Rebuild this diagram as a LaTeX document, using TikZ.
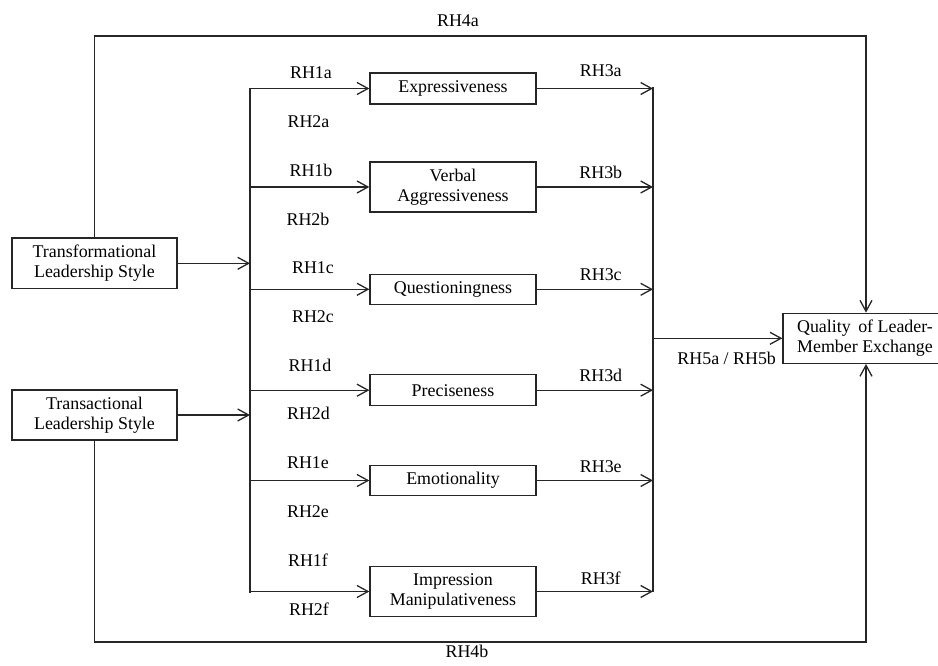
\documentclass[tikz,border=0pt]{standalone}
\usepackage{fontspec}
\setmainfont{Liberation Serif}
\usetikzlibrary{arrows.meta}
\begin{document}
\begin{tikzpicture}[x=1pt,y=-1pt,
  every node/.style={font=\fontsize{17.9}{20.5}\selectfont},
  ln/.style={line width=1.3pt, draw=black!85},
  arr/.style={ln,-{Straight Barb[length=11pt,width=12pt,line width=1.3pt]}},
  box/.style={ln, draw, rectangle, inner sep=0pt, align=center, minimum width=166pt},
  lbl/.style={inner sep=0pt}]
\useasboundingbox (0,0) rectangle (938,666);
\clip (0,0) rectangle (938,666);
% boxes
\node[box, minimum width=165pt, minimum height=50.5pt] (trf) at (94.5,263.3) {Transformational\\Leadership Style};
\node[box, minimum width=165pt, minimum height=50pt] (trc) at (94.5,415) {Transactional\\Leadership Style};
\node[box, minimum height=31pt] (exp) at (453,88.5) {Expressiveness};
\node[box, minimum height=50pt] (verb) at (453,187) {Verbal\\Aggressiveness};
\node[box, minimum height=30pt] (ques) at (453,289.3) {Questioningness};
\node[box, minimum height=31pt] (prec) at (453,390.2) {Preciseness};
\node[box, minimum height=30pt] (emo) at (453,480.5) {Emotionality};
\node[box, minimum height=50pt] (imp) at (453,591.5) {Impression\\Manipulativeness};
\node[box, minimum width=164pt, minimum height=50pt] (qual) at (865,338.3) {Quality\hspace{3pt} of Leader-\\Member Exchange};
% buses
\coordinate (lb1) at (250,88);
\coordinate (lb2) at (250,593);
\coordinate (rb1) at (653,87);
\coordinate (rb2) at (653,592);
\draw[ln] (lb1) -- (lb2);
\draw[ln] (rb1) -- (rb2);
% inputs
\draw[arr] (trf.east) -- (trf.east -| lb1);
\draw[arr] (trc.east) -- (trc.east -| lb1);
% branches
\foreach \b in {exp,verb,ques,prec,emo,imp}{
  \draw[arr] (\b.west -| lb1) -- (\b.west);
  \draw[arr] (\b.east) -- (\b.east -| rb1);
}
\draw[arr] (qual.west -| rb1) -- (qual.west);
% outer paths
\coordinate (tc) at (866,36);
\coordinate (bc) at (866,642);
\draw[arr] (trf.north) |- (tc) -- (tc |- qual.north);
\draw[arr] (trc.south) |- (bc) -- (bc |- qual.south);
% labels
\node[lbl] (l4a) at (458,21) {RH4a};
\node[lbl] (l4b) at (467,651) {RH4b};
\node[lbl] (l1a) at (311,73) {RH1a};
\node[lbl] (l2a) at (308.5,121.3) {RH2a};
\node[lbl] (l1b) at (311,170) {RH1b};
\node[lbl] (l2b) at (308,219.3) {RH2b};
\node[lbl] (l1c) at (313,267.5) {RH1c};
\node[lbl] (l2c) at (313,316.7) {RH2c};
\node[lbl] (l1d) at (310,365.5) {RH1d};
\node[lbl] (l2d) at (308.5,413.7) {RH2d};
\node[lbl] (l1e) at (308,463) {RH1e};
\node[lbl] (l2e) at (308,512) {RH2e};
\node[lbl] (l1f) at (308,559.7) {RH1f};
\node[lbl] (l2f) at (309,609) {RH2f};
\node[lbl] (l3a) at (600.8,71) {RH3a};
\node[lbl] (l3b) at (600.8,172.7) {RH3b};
\node[lbl] (l3c) at (600.8,274.3) {RH3c};
\node[lbl] (l3d) at (600.8,375.8) {RH3d};
\node[lbl] (l3e) at (600.8,466.3) {RH3e};
\node[lbl] (l3f) at (600.8,578.3) {RH3f};
\node[lbl] (l5) at (726.7,358.3) {RH5a / RH5b};
\end{tikzpicture}
\end{document}
